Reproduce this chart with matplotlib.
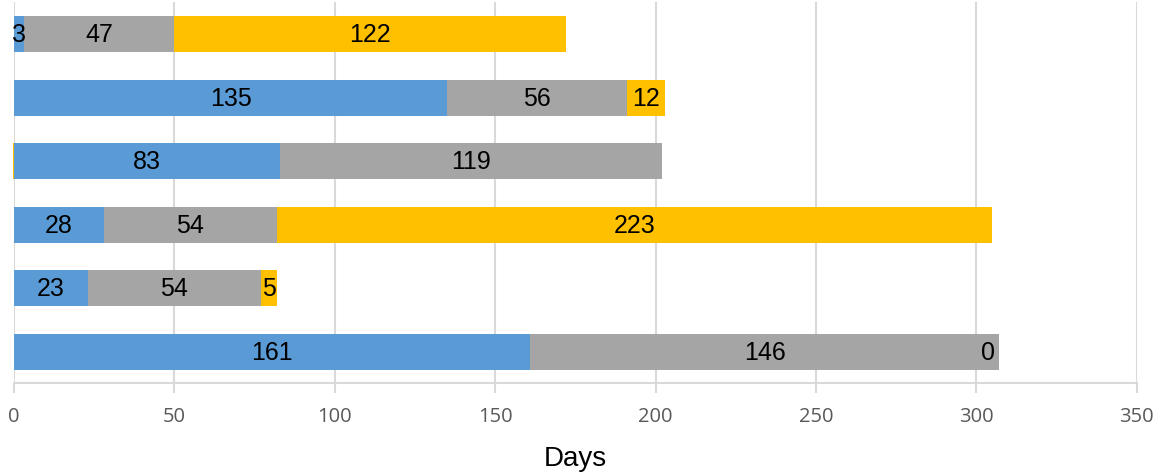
import matplotlib
matplotlib.use("Agg")
import matplotlib.pyplot as plt

# Stacked durations (days) per row, listed top to bottom
rows = ["1", "2", "3", "4", "5", "6"]
phase_a = [3, 135, 83, 28, 23, 161]
phase_b = [47, 56, 119, 54, 54, 146]
phase_c = [122, 12, -0.4, 223, 5, 0]
x_ticks = [0, 50, 100, 150, 200, 250, 300, 350]

colors = ["#5B9BD5", "#A5A5A5", "#FFC000"]
grid_color = "#D9D9D9"
label_font = dict(fontsize=18, family="Liberation Sans", color="black",
                  zorder=4, va="center")

fig = plt.figure(figsize=(11.67, 4.77), dpi=100)
ax = fig.add_axes([0.012, 0.194, 0.962, 0.799])

y = list(range(len(rows)))[::-1]
left = [0.0] * len(rows)
for series, col in zip([phase_a, phase_b, phase_c], colors):
    for i, v in enumerate(series):
        start = left[i] if v >= 0 else 0
        ax.barh(y[i], v, left=start, height=0.57, color=col,
                edgecolor="none", zorder=3, clip_on=False)
        if v >= 0:
            if v == 0:
                ax.text(left[i] - 1.2, y[i], f"{v:g}", ha="right", **label_font)
            else:
                ax.text(start + v / 2, y[i], f"{v:g}", ha="center", **label_font)
            left[i] += v

ax.set_xlim(0, 350)
ax.set_ylim(-0.5, len(rows) - 0.5)
ax.set_xticks(x_ticks)
ax.set_xticklabels([str(t) for t in x_ticks], family="Open Sans",
                   fontsize=14.5, color="#595959")
ax.set_yticks([])
ax.tick_params(axis="x", length=7, width=1.5, color=grid_color, pad=9)
ax.grid(axis="x", color=grid_color, linewidth=1.5, zorder=0)
for side in ["top", "right", "left"]:
    ax.spines[side].set_visible(False)
ax.spines["bottom"].set_color(grid_color)
ax.spines["bottom"].set_linewidth(1.5)
ax.spines["bottom"].set_zorder(1)

ax.set_xlabel("Days", family="Liberation Sans", fontsize=20, color="black",
              labelpad=14)

fig.savefig("out.png", dpi=100)
